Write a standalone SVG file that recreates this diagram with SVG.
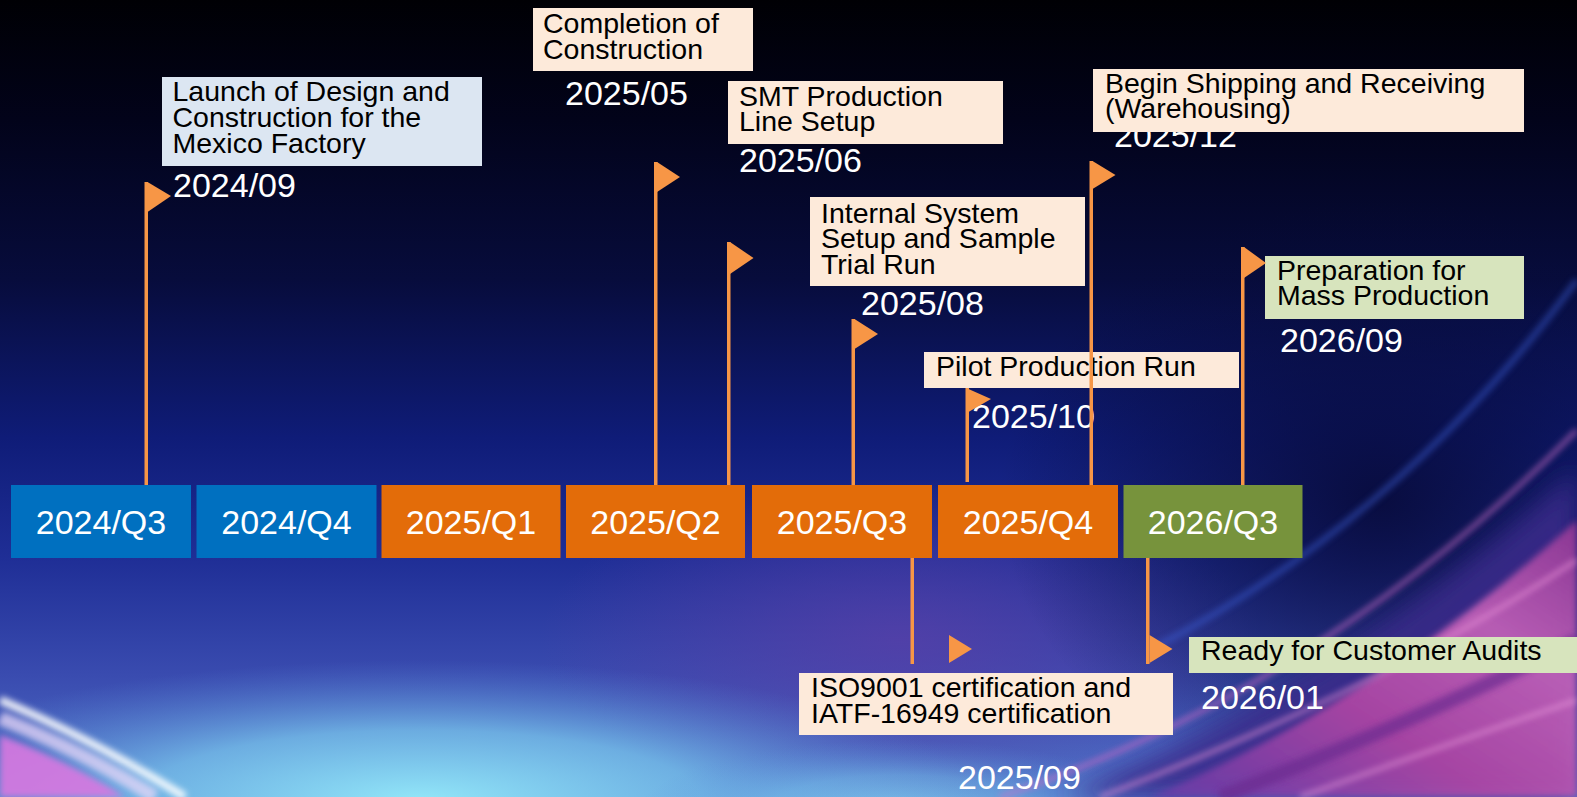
<svg xmlns="http://www.w3.org/2000/svg" width="1577" height="797" viewBox="0 0 1577 797">
<defs>
<style>
.bt{font-family:"Liberation Sans",Arial,sans-serif;font-size:28.5px;fill:#000}
.dt{font-family:"Liberation Sans",Arial,sans-serif;font-size:34px;fill:#fff}
.qt{font-family:"Liberation Sans",Arial,sans-serif;font-size:34px;fill:#fff;text-anchor:middle}
.peach{fill:#FDEADA}.lblue{fill:#DCE6F2}.lgreen{fill:#D7E4BD}
.qb{fill:#0070C0}.qo{fill:#E36C09}.qg{fill:#77933C}
.pole{fill:#F79646}.flag{fill:#F79646}
</style>
<linearGradient id="bg" x1="0" y1="0" x2="0" y2="1">
<stop offset="0" stop-color="#000004"/>
<stop offset="0.15" stop-color="#02031a"/>
<stop offset="0.35" stop-color="#070c3c"/>
<stop offset="0.55" stop-color="#0f1c78"/>
<stop offset="0.7" stop-color="#1f2e96"/>
<stop offset="0.85" stop-color="#3a4cb0"/>
<stop offset="1" stop-color="#5274c8"/>
</linearGradient>
<radialGradient id="cyan" cx="0.5" cy="0.5" r="0.5">
<stop offset="0" stop-color="#92e6f8" stop-opacity="1"/>
<stop offset="0.5" stop-color="#7ccdf0" stop-opacity="0.7"/>
<stop offset="1" stop-color="#5a8ad8" stop-opacity="0"/>
</radialGradient>
<radialGradient id="purp" cx="0.5" cy="0.5" r="0.5">
<stop offset="0" stop-color="#5a3fa8" stop-opacity="0.75"/>
<stop offset="1" stop-color="#5a3fa8" stop-opacity="0"/>
</radialGradient>
<radialGradient id="dark" cx="0.5" cy="0.5" r="0.5">
<stop offset="0" stop-color="#070a38" stop-opacity="0.9"/>
<stop offset="1" stop-color="#070a38" stop-opacity="0"/>
</radialGradient>
<linearGradient id="pink" x1="0" y1="1" x2="1" y2="0">
<stop offset="0" stop-color="#6a3aa8"/>
<stop offset="0.4" stop-color="#c04aa8"/>
<stop offset="0.7" stop-color="#d86ac0"/>
<stop offset="1" stop-color="#a03a98"/>
</linearGradient>
<filter id="blur" x="-20%" y="-20%" width="140%" height="140%"><feGaussianBlur stdDeviation="3"/></filter>
<filter id="blur2" x="-20%" y="-20%" width="140%" height="140%"><feGaussianBlur stdDeviation="12"/></filter>
</defs>

<g id="background">
<rect x="0" y="0" width="1577" height="797" fill="url(#bg)"/>
<ellipse cx="900" cy="640" rx="360" ry="160" fill="url(#purp)"/>
<ellipse cx="1380" cy="500" rx="380" ry="300" fill="url(#dark)"/>
<ellipse cx="420" cy="800" rx="560" ry="140" fill="url(#cyan)"/>
<ellipse cx="900" cy="810" rx="260" ry="70" fill="url(#cyan)" opacity="0.6"/>
<path d="M1060 797 Q1330 690 1577 470 L1577 797 Z" fill="#3a2a8a" opacity="0.85" filter="url(#blur2)"/>
<path d="M1150 797 Q1380 700 1577 520 L1577 797 Z" fill="url(#pink)" opacity="0.8" filter="url(#blur)"/>
<path d="M1000 797 Q1320 690 1577 430" fill="none" stroke="#d070c8" stroke-width="5" opacity="0.6" filter="url(#blur)"/>
<path d="M1100 797 Q1380 690 1577 560" fill="none" stroke="#e890d8" stroke-width="4" opacity="0.7" filter="url(#blur)"/>
<path d="M1220 797 Q1420 720 1577 640" fill="none" stroke="#6a2a90" stroke-width="14" opacity="0.7" filter="url(#blur)"/>
<path d="M1300 797 Q1460 740 1577 700" fill="none" stroke="#f0a0e0" stroke-width="4" opacity="0.6" filter="url(#blur)"/>
<path d="M1150 650 Q1400 520 1577 280" fill="none" stroke="#3c60d8" stroke-width="6" opacity="0.5" filter="url(#blur)"/>
<path d="M0 735 Q70 762 125 797 L0 797 Z" fill="#d878e0" opacity="0.9" filter="url(#blur)"/>
<path d="M0 700 Q90 738 185 797" fill="none" stroke="#ffffff" stroke-width="8" opacity="0.9" filter="url(#blur)"/>
<path d="M0 718 Q80 750 155 797" fill="none" stroke="#e8d8f8" stroke-width="14" opacity="0.75" filter="url(#blur)"/>
</g>

<g id="quarters">
<g id="q-2024-3"><rect class="qb" x="11" y="485" width="180" height="73"/><text class="qt" x="101" y="534">2024/Q3</text></g>
<g id="q-2024-4"><rect class="qb" x="196.5" y="485" width="180" height="73"/><text class="qt" x="286.5" y="534">2024/Q4</text></g>
<g id="q-2025-1"><rect class="qo" x="381.5" y="485" width="179" height="73"/><text class="qt" x="471" y="534">2025/Q1</text></g>
<g id="q-2025-2"><rect class="qo" x="566" y="485" width="179" height="73"/><text class="qt" x="655.5" y="534">2025/Q2</text></g>
<g id="q-2025-3"><rect class="qo" x="752" y="485" width="180" height="73"/><text class="qt" x="842" y="534">2025/Q3</text></g>
<g id="q-2025-4"><rect class="qo" x="938" y="485" width="180" height="73"/><text class="qt" x="1028" y="534">2025/Q4</text></g>
<g id="q-2026-3"><rect class="qg" x="1123.5" y="485" width="179" height="73"/><text class="qt" x="1213" y="534">2026/Q3</text></g>
</g>

<g id="ev-launch">
<rect class="lblue" x="162" y="77" width="320" height="89"/>
<text class="bt" x="172.5" y="101">Launch of Design and</text>
<text class="bt" x="172.5" y="127">Construction for the</text>
<text class="bt" x="172.5" y="153">Mexico Factory</text>
<text class="dt" x="173" y="197">2024/09</text>
</g>
<g id="ev-completion">
<rect class="peach" x="533" y="8" width="220" height="63"/>
<text class="bt" x="543" y="33">Completion of</text>
<text class="bt" x="543" y="59">Construction</text>
<text class="dt" x="565" y="105">2025/05</text>
</g>
<g id="ev-smt">
<rect class="peach" x="728" y="81" width="275" height="63"/>
<text class="bt" x="739" y="106">SMT Production</text>
<text class="bt" x="739" y="131">Line Setup</text>
<text class="dt" x="739" y="172">2025/06</text>
</g>
<g id="ev-internal">
<rect class="peach" x="810" y="197" width="275" height="89"/>
<text class="bt" x="821" y="223">Internal System</text>
<text class="bt" x="821" y="248">Setup and Sample</text>
<text class="bt" x="821" y="274">Trial Run</text>
<text class="dt" x="861" y="315">2025/08</text>
</g>
<g id="ev-pilot">
<rect class="peach" x="924" y="352" width="315" height="36"/>
<text class="bt" x="936" y="376">Pilot Production Run</text>
<text class="dt" x="972" y="428">2025/10</text>
</g>
<g id="ev-shipping">
<text class="dt" x="1114" y="147">2025/12</text>
<rect class="peach" x="1093" y="69" width="431" height="63"/>
<text class="bt" x="1105" y="93">Begin Shipping and Receiving</text>
<text class="bt" x="1105" y="118">(Warehousing)</text>
</g>
<g id="ev-prep">
<rect class="lgreen" x="1265" y="256" width="259" height="63"/>
<text class="bt" x="1277" y="280">Preparation for</text>
<text class="bt" x="1277" y="305">Mass Production</text>
<text class="dt" x="1280" y="352">2026/09</text>
</g>
<g id="ev-iso">
<rect class="peach" x="799" y="673" width="374" height="62"/>
<text class="bt" x="811" y="697">ISO9001 certification and</text>
<text class="bt" x="811" y="723">IATF-16949 certification</text>
<text class="dt" x="958" y="789">2025/09</text>
</g>
<g id="ev-ready">
<rect class="lgreen" x="1189" y="637" width="388" height="36"/>
<text class="bt" x="1201" y="660">Ready for Customer Audits</text>
<text class="dt" x="1201" y="709">2026/01</text>
</g>

<g id="connectors">
<rect class="pole" x="144.5" y="182" width="3.5" height="303"/>
<polygon class="flag" points="147.5,182 171,196 147.5,212"/>
<rect class="pole" x="654" y="162" width="3.5" height="323"/>
<polygon class="flag" points="657,162 680,177 657,192"/>
<rect class="pole" x="727" y="242" width="3.5" height="243"/>
<polygon class="flag" points="730,242 753.5,258 730,274"/>
<rect class="pole" x="851.5" y="319" width="3.5" height="166"/>
<polygon class="flag" points="854.5,319 878,334 854.5,349"/>
<rect class="pole" x="965.5" y="388" width="3.5" height="94"/>
<polygon class="flag" points="968.5,389 991,399 968.5,412"/>
<rect class="pole" x="1089.5" y="161" width="3.5" height="324"/>
<polygon class="flag" points="1092.5,161 1115.5,175 1092.5,189"/>
<rect class="pole" x="1241" y="247" width="3.5" height="238"/>
<polygon class="flag" points="1244,247 1266,263 1244,278"/>
<rect class="pole" x="910.5" y="558" width="3.5" height="106"/>
<polygon class="flag" points="949,635 972,649 949,663"/>
<rect class="pole" x="1146" y="558" width="3.5" height="106"/>
<polygon class="flag" points="1149.5,635 1172.5,649 1149.5,663"/>
</g>
</svg>
